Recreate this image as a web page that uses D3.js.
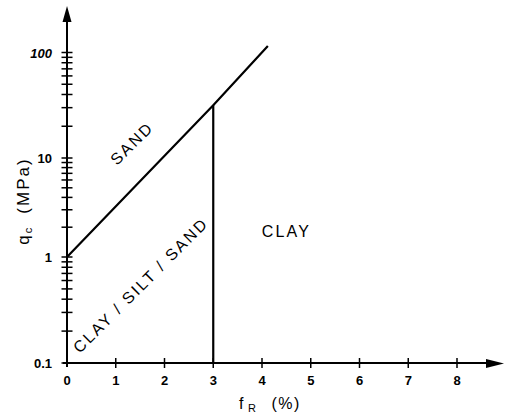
<!DOCTYPE html>
<html>
<head>
<meta charset="utf-8">
<script src="https://cdn.jsdelivr.net/npm/d3@7"></script>
<style>
  html, body { margin: 0; padding: 0; background: #fff; }
  svg { display: block; }
  text { font-family: "Liberation Sans", Arial, sans-serif; fill: #000; }
</style>
</head>
<body>
<div id="chart"></div>
<script>
// Soil classification from CPT: cone resistance q_c vs friction ratio f_R
const xTicks = [0, 1, 2, 3, 4, 5, 6, 7, 8];
const yDecades = [0.1, 1, 10, 100];
const yDecadeLabels = ["0.1", "1", "10", "100"];
// boundary between SAND and CLAY/SILT/SAND: log10(qc) = fR / 2
const boundaryFR = [0, 3, 4.12];
const boundaryQc = [1, 31.6, 115];
// vertical boundary towards CLAY at fR = 3
const splitFR = [3, 3];
const splitQc = [0.1, 31.6];
const zoneNames = ["SAND", "CLAY / SILT / SAND", "CLAY"];
const zoneFR = [1.35, 1.53, 4.5];
const zoneQc = [13.5, 0.53, 1.75];
const zoneAngle = [-45, -45, 0];

const W = 510, H = 414;
const svg = d3.select("#chart").append("svg").attr("width", W).attr("height", H);

const x = d3.scaleLinear().domain([0, 8]).range([67, 457]);
// hand-drawn decades are not quite equal in length
const y = d3.scaleLog().domain([0.1, 1, 10, 100]).range([363, 257, 158, 52.5]);

const g = svg.append("g");

// minor log ticks 2..9 in each decade, plus the decade ticks
const minor = [];
[0.1, 1, 10].forEach(d => { for (let k = 2; k <= 9; k++) minor.push(d * k); });

// y axis line with arrow
g.append("line").attr("x1", x(0)).attr("x2", x(0)).attr("y1", y(0.1) + 4).attr("y2", 14)
  .attr("stroke", "#000").attr("stroke-width", 2);
g.append("path").attr("d", `M${x(0)},6 L${x(0) - 4.5},22 L${x(0) + 4.5},22 Z`).attr("fill", "#000");

// x axis line with arrow
g.append("line").attr("x1", x(0) - 4).attr("x2", 492).attr("y1", y(0.1)).attr("y2", y(0.1))
  .attr("stroke", "#000").attr("stroke-width", 2);
g.append("path").attr("d", `M504,${y(0.1) + 0.5} L486,${y(0.1) - 4} L486,${y(0.1) + 5} Z`).attr("fill", "#000");

// y ticks (crossing the axis)
g.selectAll(".yt").data(yDecades.concat(minor)).enter().append("line")
  .attr("x1", x(0) - 5.5).attr("x2", x(0) + 5.5)
  .attr("y1", d => y(d)).attr("y2", d => y(d))
  .attr("stroke", "#000").attr("stroke-width", 1.5);

// x ticks (crossing the axis)
g.selectAll(".xt").data(xTicks.slice(1)).enter().append("line")
  .attr("x1", d => x(d)).attr("x2", d => x(d))
  .attr("y1", y(0.1) - 5).attr("y2", y(0.1) + 5)
  .attr("stroke", "#000").attr("stroke-width", 1.5);

// tick labels
g.selectAll(".xl").data(xTicks).enter().append("text")
  .attr("x", d => x(d)).attr("y", y(0.1) + 22)
  .attr("text-anchor", "middle").attr("font-size", 13).attr("font-weight", "bold")
  .text(d => d);
g.selectAll(".yl").data(yDecades).enter().append("text")
  .attr("x", 52).attr("y", d => y(d) + 5)
  .attr("text-anchor", "end").attr("font-size", 13).attr("font-weight", "bold")
  .attr("font-style", (d, i) => i === 3 ? "italic" : "normal")
  .text((d, i) => yDecadeLabels[i]);

// boundaries
const line = d3.line().x(d => x(d[0])).y(d => y(d[1]));
g.append("path").datum(boundaryFR.map((f, i) => [f, boundaryQc[i]]))
  .attr("d", line).attr("fill", "none").attr("stroke", "#000").attr("stroke-width", 2.2);
g.append("path").datum(splitFR.map((f, i) => [f, splitQc[i]]))
  .attr("d", line).attr("fill", "none").attr("stroke", "#000").attr("stroke-width", 2.2);

// zone names
g.selectAll(".zn").data(zoneNames).enter().append("text")
  .attr("transform", (d, i) => `translate(${x(zoneFR[i])},${y(zoneQc[i])}) rotate(${zoneAngle[i]})`)
  .attr("text-anchor", "middle").attr("dominant-baseline", "middle")
  .attr("font-size", 16).attr("letter-spacing", 2.2)
  .text(d => d);

// axis titles
const yt = g.append("text")
  .attr("transform", "translate(29,201) rotate(-90)")
  .attr("text-anchor", "middle").attr("font-size", 17).attr("letter-spacing", 2);
yt.append("tspan").text("q");
yt.append("tspan").attr("font-size", 11).attr("dy", 3).text("c");
yt.append("tspan").attr("dy", -3).attr("dx", 12).text("(MPa)");

const xt = g.append("text")
  .attr("x", 270).attr("y", 409)
  .attr("text-anchor", "middle").attr("font-size", 16).attr("letter-spacing", 1.5);
xt.append("tspan").text("f");
xt.append("tspan").attr("font-size", 11).attr("dy", 3).attr("dx", 3).text("R");
xt.append("tspan").attr("dy", -3).attr("dx", 14).text("(%)");
</script>
</body>
</html>
